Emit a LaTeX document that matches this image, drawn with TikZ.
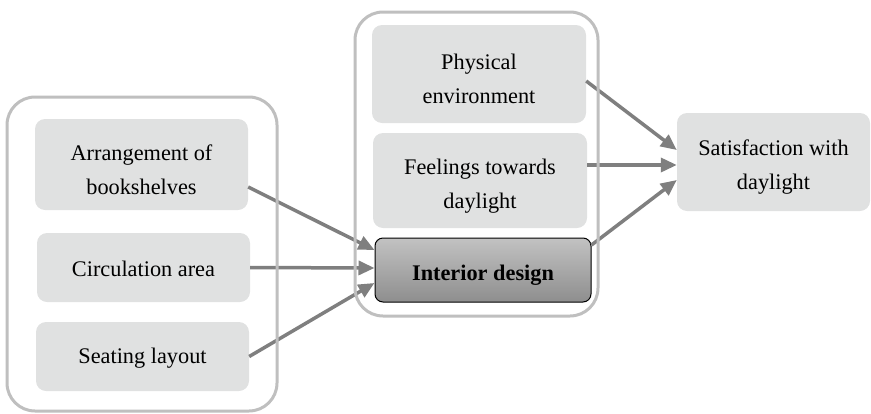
\documentclass[tikz,border=0pt]{standalone}
\usepackage{fontspec}
\setmainfont{Liberation Serif}
\usetikzlibrary{arrows.meta}
\definecolor{boxfill}{HTML}{E0E1E1}
\definecolor{framegray}{HTML}{BFBFBF}
\definecolor{arrowgray}{HTML}{7F7F7F}
\definecolor{keytop}{HTML}{C2C2C2}
\definecolor{keybottom}{HTML}{8E8E8E}
\tikzset{
  factor/.style={fill=boxfill, rounded corners=10pt, inner sep=0pt},
  keybox/.style={draw=black, line width=1pt, top color=keytop, bottom color=keybottom,
    rounded corners=8pt, inner sep=0pt},
  caption/.style={align=center, inner sep=0pt, font=\fontsize{22.3}{34}\selectfont},
  groupframe/.style={draw=framegray, line width=3pt, rounded corners=28pt, inner sep=0pt},
  link/.style={draw=arrowgray, line width=3.5pt, -{Triangle[length=16pt,width=14pt]}}
}
\begin{document}
\begin{tikzpicture}[x=1pt,y=-1pt]
\useasboundingbox (0,0) rectangle (871,413);

% factor boxes
\node[factor, minimum width=213pt, minimum height=91pt] (arr) at (141.5,164.5) {};
\node[factor, minimum width=213pt, minimum height=69pt] (circ) at (143.5,267.5) {};
\node[factor, minimum width=213pt, minimum height=69pt] (seat) at (142.5,356.5) {};
\node[factor, minimum width=214pt, minimum height=98pt] (phys) at (479,74) {};
\node[factor, minimum width=214pt, minimum height=95pt] (feel) at (480,180.5) {};
\node[keybox, minimum width=216pt, minimum height=64pt] (int) at (483,270) {};
\node[factor, minimum width=193pt, minimum height=98pt] (sat) at (773.5,162) {};

% box texts, set a little below the geometric centre
\node[caption] (arrT) at ([yshift=-5pt]arr.center) {Arrangement of\\bookshelves};
\node[caption] (circT) at ([yshift=-1pt]circ.center) {Circulation area};
\node[caption] (seatT) at ([yshift=-1.5pt]seat.center) {Seating layout};
\node[caption] (physT) at ([yshift=-5pt]phys.center) {Physical\\environment};
\node[caption] (feelT) at ([yshift=-5.5pt]feel.center) {Feelings towards\\daylight};
\node[caption, font=\fontsize{22.3}{34}\selectfont\bfseries] (intT) at ([yshift=-5.5pt]int.center) {Interior design};
\node[caption] (satT) at ([yshift=-5pt]sat.center) {Satisfaction with\\daylight};

% connectors
\draw[link] ([yshift=-22.5pt]arr.east) -- ([yshift=20pt]int.west);
\draw[link] (circ.east) -- ([yshift=2pt]int.west);
\draw[link] (seat.east) -- ([yshift=-13pt]int.west);
\draw[link] ([yshift=-7pt]phys.east) -- ([yshift=12pt]sat.west);
\draw[link] ([yshift=15.5pt]feel.east) -- ([yshift=-3pt]sat.west);
\draw[link] ([yshift=25pt]int.east) -- ([yshift=-18pt]sat.west);

% group frames
\node[groupframe, minimum width=270pt, minimum height=314pt] (grpL) at (142,254) {};
\node[groupframe, minimum width=243pt, minimum height=304pt] (grpM) at (476.5,164) {};
\end{tikzpicture}
\end{document}
